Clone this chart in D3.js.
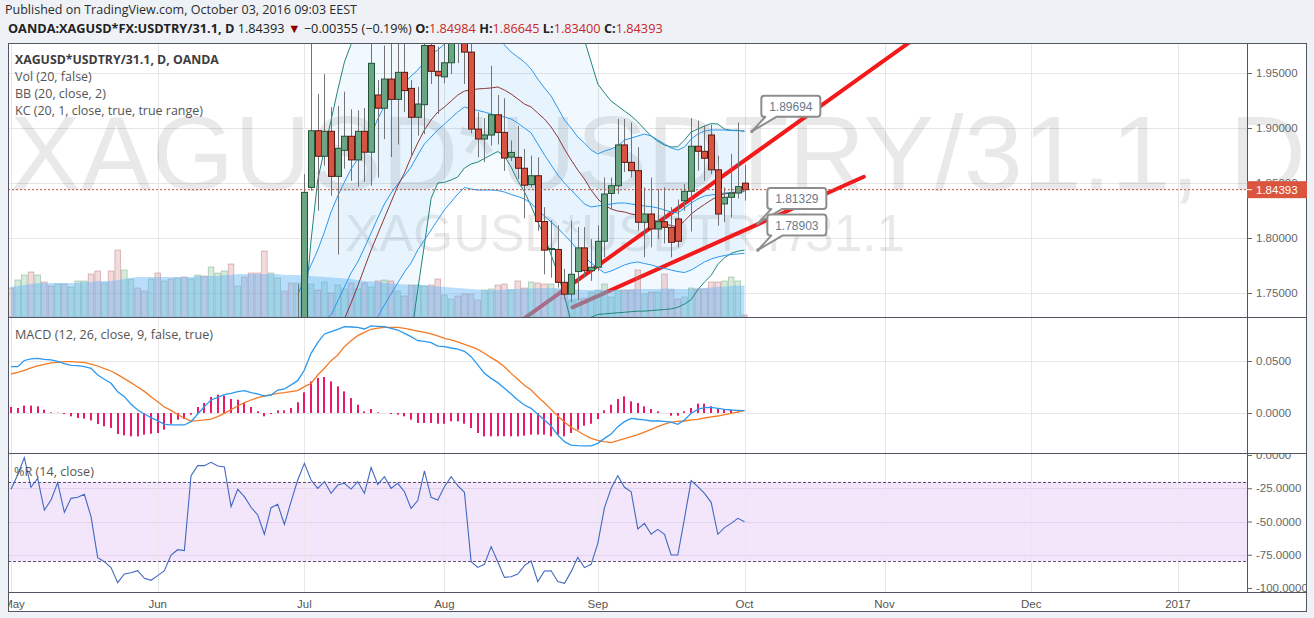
<!DOCTYPE html>
<html><head><meta charset="utf-8">
<script src="https://cdn.jsdelivr.net/npm/d3@7"></script>
<style>
html,body{margin:0;padding:0;background:#eef2f6;}
svg{display:block;}
</style></head><body>
<svg id="c" width="1314" height="618"></svg>
<script>
// ---------------- DATA ----------------
const firstDate = "2016-05-02";
const lastDate = "2016-10-03";
const candleStart = "2016-06-30";
const tickLabels = ["May","Jun","Jul","Aug","Sep","Oct","Nov","Dec","2017"];
const tickDates = ["2016-05-02","2016-06-01","2016-07-01","2016-08-01","2016-09-01","2016-10-03","2016-11-01","2016-12-01","2017-01-02"];
const priceTicks = [1.75,1.80,1.85,1.90,1.95];
const macdTicks = [0,0.05];
const wrTicks = [0,-25,-50,-75,-100];
const lastPrice = 1.84393;

const candleOpen = [1.705,1.712,1.846,1.8975,1.8743,1.897,1.856,1.8797,1.8925,1.871,1.897,1.878,1.930,1.918,1.9445,1.926,1.9506,1.936,1.9097,1.9212,1.975,1.9515,1.9465,1.9593,1.985,1.977,1.969,1.899,1.890,1.8936,1.912,1.896,1.8735,1.8733,1.8634,1.8485,1.8566,1.815,1.7895,1.7896,1.7597,1.749,1.7695,1.791,1.7703,1.7734,1.797,1.8405,1.8475,1.8846,1.8688,1.8612,1.8143,1.8218,1.8082,1.8148,1.8097,1.8173,1.8339,1.8425,1.8834,1.8788,1.8936,1.862,1.831,1.837,1.8409,1.84984];
const candleHigh = [1.758,1.858,1.985,1.931,1.949,1.919,1.920,1.933,1.917,1.916,1.918,1.985,1.9436,1.975,1.985,1.985,1.985,1.9436,1.9375,1.985,1.985,1.974,1.985,1.995,1.995,1.99,1.985,1.9143,1.909,1.9566,1.930,1.927,1.8887,1.902,1.881,1.8749,1.8733,1.828,1.816,1.8115,1.772,1.8157,1.810,1.810,1.799,1.8115,1.855,1.855,1.9082,1.9082,1.905,1.8825,1.846,1.855,1.8445,1.846,1.828,1.835,1.849,1.909,1.9066,1.902,1.903,1.8748,1.846,1.8764,1.905,1.86645];
const candleLow = [1.695,1.700,1.843,1.825,1.8657,1.8385,1.785,1.863,1.852,1.8466,1.851,1.8475,1.855,1.890,1.8736,1.885,1.9145,1.875,1.893,1.8945,1.940,1.9127,1.9406,1.949,1.959,1.940,1.895,1.8734,1.869,1.884,1.885,1.861,1.870,1.8536,1.818,1.846,1.8066,1.767,1.764,1.755,1.7445,1.7415,1.7436,1.764,1.761,1.770,1.7825,1.8264,1.840,1.860,1.855,1.8066,1.7825,1.7915,1.799,1.795,1.7825,1.7915,1.8248,1.806,1.8612,1.852,1.858,1.8112,1.8145,1.8188,1.836,1.834];
const candleClose = [1.712,1.8415,1.8975,1.8743,1.897,1.856,1.8815,1.8925,1.871,1.897,1.878,1.9588,1.918,1.9445,1.926,1.9506,1.934,1.9097,1.9218,1.975,1.9515,1.9475,1.9593,1.978,1.977,1.969,1.899,1.890,1.8936,1.912,1.896,1.8727,1.8778,1.8634,1.848,1.8566,1.815,1.789,1.7905,1.7597,1.749,1.767,1.791,1.7703,1.7734,1.797,1.840,1.8475,1.8846,1.8688,1.8612,1.8143,1.8218,1.8082,1.8148,1.8097,1.7961,1.797,1.8425,1.8834,1.8788,1.8725,1.862,1.8218,1.837,1.8407,1.8467,1.84393];

const bbUpper = [1.70,1.73,1.798,1.853,1.88,1.907,1.9345,1.96,1.976,1.99,2.0,2.015,2.025,2.035,2.045,2.05,2.055,2.055,2.055,2.06,2.065,2.065,2.065,2.06,2.055,2.045,2.035,2.03,2.025,2.02,2.015,2.01,2.01,2.01,2.01,2.01,2.01,2.01,2.01,2.01,2.005,2.0,1.99,1.98,1.96,1.94,1.932,1.9245,1.92,1.9155,1.911,1.9055,1.899,1.8927,1.888,1.8845,1.8827,1.883,1.889,1.8964,1.899,1.9018,1.904,1.9036,1.899,1.898,1.898,1.8969];
const bbBasis = [1.69,1.693,1.697,1.70,1.7073,1.7164,1.7236,1.7265,1.7409,1.7564,1.7727,1.7891,1.8036,1.8182,1.8327,1.8473,1.8591,1.8736,1.8864,1.8982,1.9073,1.9145,1.9191,1.9245,1.93,1.9336,1.9345,1.9355,1.9359,1.9364,1.9373,1.9345,1.9309,1.9264,1.9218,1.9191,1.9136,1.9082,1.9009,1.8918,1.8809,1.8709,1.8618,1.8536,1.8436,1.8355,1.83,1.8264,1.8245,1.8236,1.8218,1.8209,1.8191,1.8173,1.815,1.8127,1.8114,1.81,1.8155,1.8218,1.8264,1.8305,1.8345,1.8382,1.84,1.8409,1.8418,1.843];
const bbLower = [1.64,1.62,1.60,1.58,1.57,1.56,1.55,1.545,1.545,1.55,1.555,1.56,1.57,1.58,1.60,1.63,1.67,1.71,1.753,1.794,1.836,1.85,1.8506,1.8527,1.8555,1.8636,1.8673,1.869,1.8723,1.8755,1.8786,1.8745,1.8645,1.852,1.842,1.829,1.8145,1.801,1.7845,1.768,1.747,1.724,1.722,1.725,1.728,1.7305,1.731,1.7315,1.732,1.7325,1.733,1.7335,1.7335,1.734,1.7345,1.735,1.7355,1.737,1.740,1.744,1.753,1.76,1.766,1.776,1.782,1.786,1.788,1.789];
const kcUpper = [1.7482,1.7627,1.7755,1.7891,1.8055,1.8236,1.8382,1.8509,1.8627,1.8718,1.8818,1.8936,1.9082,1.92,1.9291,1.9355,1.9409,1.9473,1.9527,1.96,1.9673,1.9709,1.9764,1.9818,1.988,1.992,1.994,1.994,1.992,1.99,1.985,1.9755,1.9691,1.9645,1.96,1.9536,1.9445,1.9364,1.9291,1.9182,1.9073,1.90,1.8918,1.8864,1.88,1.8764,1.8791,1.8809,1.8836,1.8891,1.8909,1.8927,1.8945,1.8927,1.8891,1.8855,1.8818,1.88,1.8827,1.89,1.8945,1.8973,1.8982,1.8982,1.8982,1.8977,1.8975,1.8975];
const kcMiddle = [1.7073,1.7118,1.7164,1.7209,1.7255,1.73,1.7427,1.7555,1.7682,1.7782,1.7909,1.8045,1.8182,1.8309,1.8409,1.8491,1.8564,1.8645,1.8755,1.8855,1.8918,1.8982,1.9036,1.9091,1.9145,1.9191,1.9173,1.9159,1.9145,1.9127,1.9109,1.91,1.9082,1.9045,1.90,1.8955,1.8855,1.8755,1.8664,1.8573,1.85,1.8436,1.8373,1.8309,1.8282,1.8291,1.83,1.8309,1.8318,1.8318,1.8309,1.83,1.8291,1.8285,1.8273,1.8255,1.8236,1.8227,1.8273,1.8318,1.8355,1.8382,1.8391,1.84,1.8409,1.8414,1.8418,1.8421];
const kcLower = [1.62,1.63,1.64,1.65,1.66,1.67,1.68,1.69,1.695,1.70,1.707,1.715,1.7285,1.7391,1.7491,1.7591,1.7691,1.7773,1.7891,1.7982,1.8073,1.8164,1.8255,1.8327,1.84,1.8459,1.8445,1.8436,1.8436,1.8436,1.8432,1.8418,1.8395,1.8377,1.8355,1.8314,1.8255,1.82,1.8145,1.809,1.8027,1.7964,1.7891,1.7827,1.7773,1.7727,1.7682,1.77,1.7727,1.7755,1.7773,1.7782,1.7768,1.7755,1.7736,1.7723,1.7709,1.7695,1.7686,1.7709,1.7745,1.7782,1.7809,1.7827,1.7841,1.785,1.7855,1.7861];

const volume = [29,37,42,45,42,35,31,33,33,30,36,36,43,46,34,46,67,47,38,29,26,38,44,36,38,39,40,38,42,41,50,44,46,53,31,40,44,44,66,44,39,26,34,34,30,33,27,35,24,32,28,34,28,34,30,36,37,36,26,21,32,32,31,32,38,22,18,21,23,23,17,27,28,32,33,27,36,29,35,34,33,33,27,25,17,18,19,25,27,33,20,27,27,27,47,23,25,25,43,27,18,20,29,28,28,35,35,36,40,36,2];
const volumeUpEarly = [0,1,1,0,1,0,0,1,0,1,1,1,0,0,1,0,0,1,1,0,0,1,0,1,0,1,0,1,1,0,1,1,1,0,1,0,0,0,0,1,1,0,0];
const volumeMA = [30,31,32,33,34,34,34,34,34,34,34,35,35,36,36,36,37,38,39,40,40,40,40,40,40,40,40,40,41,41,41,41,42,42,43,43,43,43,43,43,43,42,42,42,41.5,41,40.5,40,39.5,39,38.5,38,37,36,35.5,35,34,33.5,33,32.5,32,32,32,31,30.5,30,29.5,29,28.5,28,27.5,27,27,27,27.5,28,28,28.5,28.5,29,29,29,29,28.5,28,27.5,27,27,27,27,27,27,27,27.5,28,28,28,28,28.5,28.5,28,28,28,28.5,29,29.5,30,30.5,31,31.5,31.5];

const macdLine = [0.0445,0.0445,0.0505,0.052,0.0526,0.0516,0.051,0.0497,0.0474,0.0458,0.0455,0.0445,0.043,0.0365,0.0324,0.0286,0.0205,0.0157,0.0084,0.0029,-0.001,-0.0045,-0.0074,-0.011,-0.0115,-0.0115,-0.0115,-0.0083,-0.001,0.0061,0.0125,0.015,0.0176,0.0189,0.0205,0.0215,0.0196,0.0183,0.0163,0.0173,0.0221,0.0231,0.027,0.0311,0.0413,0.0574,0.0676,0.076,0.0782,0.0805,0.083,0.0827,0.0824,0.0808,0.0837,0.0833,0.083,0.0814,0.0798,0.0766,0.0734,0.0695,0.0689,0.0676,0.0644,0.0638,0.0625,0.0615,0.0593,0.0542,0.0462,0.0381,0.0333,0.0292,0.0237,0.0183,0.0125,0.0077,0.0045,-0.0013,-0.0067,-0.0125,-0.0212,-0.0276,-0.0308,-0.0314,-0.0317,-0.0317,-0.0292,-0.0244,-0.0202,-0.0131,-0.0083,-0.0051,-0.006,-0.0067,-0.0077,-0.0077,-0.008,-0.0087,-0.0109,-0.0067,-0.0003,0.0035,0.0051,0.0055,0.0045,0.0035,0.0029,0.0026,0.0022];
const macdSignal = [0.0375,0.0391,0.041,0.0433,0.0452,0.0468,0.0481,0.0487,0.0494,0.0494,0.049,0.0487,0.0471,0.0452,0.0426,0.0404,0.0369,0.033,0.0292,0.025,0.0208,0.0157,0.0108,0.0058,0.0025,-0.0015,-0.005,-0.0077,-0.0074,-0.0067,-0.0058,-0.0035,-0.0003,0.0032,0.0067,0.0099,0.0125,0.0147,0.0163,0.0176,0.0189,0.0196,0.0205,0.0215,0.0253,0.0285,0.0365,0.043,0.0503,0.0558,0.0638,0.0695,0.0744,0.0776,0.0805,0.0817,0.0824,0.0824,0.0824,0.0814,0.0801,0.0788,0.0776,0.076,0.0741,0.0718,0.0702,0.0683,0.066,0.0638,0.0612,0.0574,0.0532,0.0494,0.0445,0.0381,0.0324,0.0266,0.0221,0.0157,0.0099,0.0035,-0.0029,-0.0087,-0.0138,-0.0173,-0.0212,-0.0244,-0.0263,-0.0276,-0.0285,-0.0266,-0.0247,-0.0228,-0.0208,-0.0183,-0.0157,-0.0131,-0.0106,-0.0087,-0.008,-0.0077,-0.0067,-0.0061,-0.0048,-0.0038,-0.0029,-0.0016,-0.0003,0.001,0.0022];
const macdHist = [0.0058,0.0048,0.0071,0.0071,0.0064,0.0032,0.0006,0.0003,-0.001,-0.0032,-0.0048,-0.0054,-0.0071,-0.0106,-0.0128,-0.0144,-0.0202,-0.0215,-0.0224,-0.0224,-0.0208,-0.0199,-0.0192,-0.016,-0.0103,-0.0064,-0.0058,-0.0016,0.0058,0.0096,0.0154,0.0176,0.0167,0.0135,0.0128,0.0096,0.0058,0.0016,-0.0032,-0.001,0.0026,0.0026,0.0048,0.0103,0.0199,0.0304,0.0337,0.0346,0.0304,0.0256,0.0208,0.0144,0.008,0.0016,0.0038,0.0006,0,-0.001,-0.0016,-0.0032,-0.0064,-0.0096,-0.0096,-0.0096,-0.0103,-0.0103,-0.008,-0.008,-0.0103,-0.0144,-0.0192,-0.0224,-0.0224,-0.0224,-0.0224,-0.0224,-0.0224,-0.0218,-0.0208,-0.0208,-0.0208,-0.0224,-0.0208,-0.0224,-0.0192,-0.016,-0.0122,-0.0103,-0.0058,0.0026,0.008,0.0135,0.016,0.0112,0.0096,0.0064,0.0038,0.0016,0,-0.0026,-0.0026,0.0016,0.0048,0.009,0.009,0.0064,0.0048,0.0038,0.0032,0.0006,0];
const williamsR = [-25.8,-15,-2,-24.3,-17.5,-41.4,-33.8,-20.8,-43.1,-32.6,-31.8,-29.6,-46.4,-77.2,-80.2,-84.7,-96,-89.5,-88.5,-87,-92.7,-94.2,-90.7,-87,-75.2,-71.2,-71.9,-15.5,-8,-8,-5.5,-8.3,-9,-38.8,-25.8,-31.3,-39.3,-45.1,-59.6,-39.6,-37.1,-52.1,-35.1,-18.8,-6.3,-18.8,-25.1,-20,-28.8,-22.6,-21.3,-25.6,-20,-28.8,-9.5,-22.1,-16.3,-25.1,-21.3,-27.6,-40.1,-34.3,-12,-31.8,-33.8,-23.8,-16.3,-23.1,-28.1,-80.2,-84.5,-82.2,-68.9,-80.2,-92,-91.5,-89.5,-83.2,-79.7,-95.2,-87.2,-87,-95.2,-96.5,-87.7,-76.9,-84.7,-82.2,-66.4,-39.6,-25.1,-15.5,-24.3,-27.6,-55.6,-51.4,-59.6,-55.9,-59.6,-75.2,-75.2,-47.6,-19.3,-23.8,-28.8,-35.6,-59.6,-54.6,-51.4,-47.6,-50.1];
const wrLevels = [-20,-80];

// user drawn trend lines: [bar index, price]
const trendFrom = [[74.0,1.714],[84.2,1.737]];
const trendTo = [[136.0,1.9834],[127.9,1.8557]];
// price callouts: [bar index, price]
const calloutBar = [111.1,112.0,112.0];
const calloutValue = [1.89694,1.81329,1.78903];

// ---------------- HELPERS ----------------
function tradingDays(a,b){const out=[];let d=new Date(a+"T00:00:00Z");const e=new Date(b+"T00:00:00Z");
  while(d<=e){const w=d.getUTCDay();if(w!==0&&w!==6)out.push(d.toISOString().slice(0,10));d=new Date(d.getTime()+864e5);}return out;}
const days = tradingDays(firstDate,"2017-01-13");
const idxOf = s => days.indexOf(s);
const c0 = idxOf(candleStart);
const lastIdx = idxOf(lastDate);
const loc = d3.formatLocale({decimal:".",thousands:",",grouping:[3],currency:["$",""],minus:"-"});
const f5 = loc.format(".5f"), f4 = loc.format(".4f");

const candles = candleOpen.map((o,k)=>({i:c0+k,o,h:candleHigh[k],l:candleLow[k],c:candleClose[k]}));

// ---------------- LAYOUT ----------------
const L=8, PR=1247, R=1307;
const P = {main:[43,317], macd:[317,453], wr:[453,592]};
const AXB = 612;

const x = d3.scaleLinear().domain([0,lastIdx]).range([11,744.5]);
const y = d3.scaleLinear().domain([1.75,1.95]).range([293,73]);
const yV = d3.scaleLinear().domain([0,100]).range([317,217]);
const yM = d3.scaleLinear().domain([0,0.05]).range([413,361]);
const yW = d3.scaleLinear().domain([0,-100]).range([455,588]);

const svg = d3.select("#c");
const defs = svg.append("defs");
function clip(id,x0,y0,x1,y1){defs.append("clipPath").attr("id",id).append("rect").attr("x",x0).attr("y",y0).attr("width",x1-x0).attr("height",y1-y0);}
clip("cMain",L,P.main[0],PR,P.main[1]);
clip("cMainW",L,P.main[0],R,P.main[1]);
clip("cMacd",L,P.macd[0],PR,P.macd[1]);
clip("cWr",L,P.wr[0],PR,P.wr[1]);
clip("cAxis",L,P.wr[1],PR,AXB);
clip("caMain",PR,P.main[0],R,P.main[1]);
clip("caMacd",PR,P.macd[0],R,P.macd[1]);
clip("caWr",PR,P.wr[0],R,P.wr[1]);

const FONT = "'Open Sans','Noto Sans',sans-serif";
const AFONT = "'Liberation Sans',Arial,sans-serif";

svg.append("rect").attr("x",L).attr("y",P.main[0]).attr("width",R-L).attr("height",AXB-P.main[0]).attr("fill","#fff");

// grid
const grid = svg.append("g").attr("stroke","#e6e6e6").attr("stroke-width",1).attr("shape-rendering","crispEdges");
tickDates.forEach(d=>{const xx=Math.round(x(idxOf(d)))+0.5; grid.append("line").attr("x1",xx).attr("x2",xx).attr("y1",P.main[0]).attr("y2",P.wr[1]);});
priceTicks.forEach(v=>{const yy=Math.round(y(v))+0.5;grid.append("line").attr("x1",L).attr("x2",PR).attr("y1",yy).attr("y2",yy);});
macdTicks.forEach(v=>{const yy=Math.round(yM(v))+0.5;grid.append("line").attr("x1",L).attr("x2",PR).attr("y1",yy).attr("y2",yy);});

// ---------------- MAIN PANE ----------------
const gW = svg.append("g").attr("clip-path","url(#cMainW)");
const wm1 = gW.append("text").attr("x",L+2).attr("y",190).attr("font-family",AFONT).attr("font-size",106)
  .attr("fill","#000").attr("fill-opacity",0.085).text("XAGUSD*USDTRY/31.1, D");
const wm2 = gW.append("text").attr("x",345).attr("y",251).attr("font-family",AFONT).attr("font-size",51)
  .attr("fill","#000").attr("fill-opacity",0.085).text("XAGUSD*USDTRY/31.1");

const gM = svg.append("g").attr("clip-path","url(#cMain)");
const area2 = (a,b)=>d3.area().x((d,k)=>x(c0+k)).y0((d,k)=>y(b[k])).y1((d,k)=>y(a[k]));
gM.append("path").attr("d",area2(bbUpper,bbLower)(bbUpper)).attr("fill","rgba(33,150,243,0.06)");
gM.append("path").attr("d",area2(kcUpper,kcLower)(kcUpper)).attr("fill","rgba(33,150,243,0.05)");

// trend lines (under the volume layer)
const gT = gM.append("g");
trendFrom.forEach((f,k)=>{const t=trendTo[k];
  gT.append("line").attr("x1",x(f[0])).attr("y1",y(f[1])).attr("x2",x(t[0])).attr("y2",y(t[1]))
   .attr("stroke","#f21a1a").attr("stroke-width",4).attr("stroke-linecap","round");});

// volume
const volUp = volume.map((v,i)=>{ if(i<c0) return volumeUpEarly[i]; const k=i-c0; return candleClose[k]>=candleOpen[k]?1:0;});
gM.append("g").selectAll("rect").data(volume).join("rect")
  .attr("x",(v,i)=>x(i)-2.8).attr("width",5.6).attr("y",v=>yV(v)).attr("height",v=>yV(0)-yV(v))
  .attr("fill",(v,i)=>volUp[i]?"rgba(95,175,120,0.25)":"rgba(205,110,115,0.25)")
  .attr("stroke",(v,i)=>volUp[i]?"rgba(80,150,100,0.45)":"rgba(170,90,95,0.45)").attr("stroke-width",0.8);
gM.append("path").attr("d",d3.area().x((v,i)=>x(i)).y0(yV(0)).y1(v=>yV(v))(volumeMA))
  .attr("fill","rgba(100,181,246,0.45)");

// bands
const ln = arr => d3.line().x((d,k)=>x(c0+k)).y(d=>y(d))(arr);
gM.append("path").attr("d",ln(bbUpper)).attr("fill","none").attr("stroke","#21867a").attr("stroke-width",1);
gM.append("path").attr("d",ln(bbLower)).attr("fill","none").attr("stroke","#21867a").attr("stroke-width",1);
gM.append("path").attr("d",ln(kcUpper)).attr("fill","none").attr("stroke","#2b98f0").attr("stroke-width",1);
gM.append("path").attr("d",ln(kcLower)).attr("fill","none").attr("stroke","#2b98f0").attr("stroke-width",1);
gM.append("path").attr("d",ln(kcMiddle)).attr("fill","none").attr("stroke","#2b98f0").attr("stroke-width",1);
gM.append("path").attr("d",ln(bbBasis)).attr("fill","none").attr("stroke","#8c3838").attr("stroke-width",1);

// candles
const gC = gM.append("g");
gC.selectAll("line").data(candles).join("line")
  .attr("x1",d=>Math.round(x(d.i))+0.5).attr("x2",d=>Math.round(x(d.i))+0.5)
  .attr("y1",d=>y(d.h)).attr("y2",d=>y(d.l)).attr("stroke","#737375").attr("stroke-width",1);
gC.selectAll("rect").data(candles).join("rect")
  .attr("x",d=>Math.round(x(d.i))-2.5).attr("width",6)
  .attr("y",d=>y(Math.max(d.o,d.c))).attr("height",d=>Math.max(1,Math.abs(y(d.o)-y(d.c))))
  .attr("fill",d=>d.c>=d.o?"#6ba583":"#d75442").attr("stroke",d=>d.c>=d.o?"#225437":"#5b1a13").attr("stroke-width",1);

// last price dotted line
svg.append("line").attr("x1",L).attr("x2",PR).attr("y1",y(lastPrice)).attr("y2",y(lastPrice))
  .attr("stroke","#c9503c").attr("stroke-width",1).attr("stroke-dasharray","2,2");

// callouts
calloutBar.forEach((b,k)=>{
  const ax=x(b), ay=y(calloutValue[k]);
  const bx=ax+9.5, bw=59, bh=21, by=ay-14.5-bh, r=3;
  const p = `M${bx+r},${by}H${bx+bw-r}Q${bx+bw},${by} ${bx+bw},${by+r}V${by+bh-r}Q${bx+bw},${by+bh} ${bx+bw-r},${by+bh}H${bx+15}L${ax},${ay}L${bx+4},${by+bh}H${bx+r}Q${bx},${by+bh} ${bx},${by+bh-r}V${by+r}Q${bx},${by} ${bx+r},${by}Z`;
  svg.append("path").attr("d",p).attr("fill","#fff").attr("stroke","#8d8d8d").attr("stroke-width",2).attr("stroke-linejoin","round");
  svg.append("rect").attr("x",ax-1.5).attr("y",ay-1.5).attr("width",3).attr("height",3).attr("fill","#8d8d8d");
  svg.append("text").attr("x",bx+bw/2).attr("y",by+15).attr("text-anchor","middle").attr("font-family",AFONT)
    .attr("font-size",12).attr("fill","#687a8c").text(f5(calloutValue[k]));
});

// ---------------- MACD PANE ----------------
const gMa = svg.append("g").attr("clip-path","url(#cMacd)");
gMa.selectAll("rect").data(macdHist).join("rect")
  .attr("x",(v,i)=>Math.round(x(i))-1).attr("width",2)
  .attr("y",v=>Math.min(yM(v),yM(0))).attr("height",v=>Math.abs(yM(v)-yM(0)))
  .attr("fill","#e8196b");
const lnI = (sc)=>d3.line().x((v,i)=>x(i)).y(v=>sc(v));
gMa.append("path").attr("d",lnI(yM)(macdSignal)).attr("fill","none").attr("stroke","#f47b26").attr("stroke-width",1.3);
gMa.append("path").attr("d",lnI(yM)(macdLine)).attr("fill","none").attr("stroke","#2b98f0").attr("stroke-width",1.3);

// ---------------- %R PANE ----------------
const gR = svg.append("g").attr("clip-path","url(#cWr)");
gR.append("rect").attr("x",L).attr("width",PR-L).attr("y",yW(wrLevels[0])).attr("height",yW(wrLevels[1])-yW(wrLevels[0])).attr("fill","#f3e6fb");
[-25,-50,-75].forEach(v=>{const yy=Math.round(yW(v))+0.5; gR.append("line").attr("x1",L).attr("x2",PR).attr("y1",yy).attr("y2",yy).attr("stroke","#e3d3ee").attr("stroke-width",1);});
tickDates.forEach(d=>{const xx=Math.round(x(idxOf(d)))+0.5; gR.append("line").attr("x1",xx).attr("x2",xx).attr("y1",P.wr[0]).attr("y2",P.wr[1]).attr("stroke","#e6e6e6").attr("stroke-opacity",0.6);});
wrLevels.forEach(v=>{const yy=Math.round(yW(v))+0.5; gR.append("line").attr("x1",L).attr("x2",PR).attr("y1",yy).attr("y2",yy).attr("stroke","#5c5470").attr("stroke-width",1).attr("stroke-dasharray","3,2");});
gR.append("path").attr("d",lnI(yW)(williamsR)).attr("fill","none").attr("stroke","#4169c1").attr("stroke-width",1.1);

// ---------------- FRAME ----------------
const fr = svg.append("g").attr("stroke","#505561").attr("stroke-width",1).attr("shape-rendering","crispEdges").attr("fill","none");
fr.append("rect").attr("x",L+0.5).attr("y",P.main[0]+0.5).attr("width",R-L-1).attr("height",AXB-P.main[0]-1);
fr.append("line").attr("x1",PR+0.5).attr("x2",PR+0.5).attr("y1",P.main[0]).attr("y2",P.wr[1]);
[P.main[1],P.macd[1],P.wr[1]].forEach(v=>fr.append("line").attr("x1",L).attr("x2",R).attr("y1",v+0.5).attr("y2",v+0.5));

// ---------------- AXES ----------------
function rightAxis(sc,vals,fmt,clipId){
  const outer = svg.append("g").attr("clip-path",`url(#${clipId})`);
  const g = outer.append("g").attr("transform",`translate(${PR},0)`);
  const ax = d3.axisRight(sc).tickValues(vals).tickFormat(fmt).tickSize(5).tickPadding(4);
  g.call(ax);
  g.select(".domain").remove();
  g.selectAll(".tick line").attr("stroke","#666");
  g.selectAll(".tick text").attr("font-family",AFONT).attr("font-size",11.5).attr("fill","#666");
  return outer;
}
rightAxis(y,priceTicks,f5,"caMain");
rightAxis(yM,macdTicks,f4,"caMacd");
rightAxis(yW,wrTicks,f4,"caWr");

// last price tag
const ly = y(lastPrice);
svg.append("rect").attr("x",PR).attr("y",ly-8.5).attr("width",R-PR).attr("height",17).attr("fill","#da543e");
svg.append("line").attr("x1",PR).attr("x2",PR+5).attr("y1",ly).attr("y2",ly).attr("stroke","#fff");
svg.append("text").attr("x",PR+9).attr("y",ly+4.5).attr("font-family",AFONT).attr("font-size",11.5).attr("fill","#fff").text(f5(lastPrice));

// time axis
const gX = svg.append("g").attr("clip-path","url(#cAxis)");
tickDates.forEach((d,k)=>{
  gX.append("text").attr("x",x(idxOf(d))+(k===0?3:0)).attr("y",608).attr("text-anchor","middle").attr("font-family",AFONT)
    .attr("font-size",11.5).attr("fill","#555").text(tickLabels[k]);
});

// ---------------- TEXTS ----------------
function fit(sel,w){const n=sel.node();const cur=n.getComputedTextLength();const fs=parseFloat(sel.attr("font-size"));sel.attr("font-size",(fs*w/cur).toFixed(2));}
const h1 = svg.append("text").attr("x",5).attr("y",14).attr("font-family",FONT).attr("font-size",12.5).attr("fill","#2b2b2b")
  .text("Published on TradingView.com, October 03, 2016 09:03 EEST");
fit(h1,352);
const h2 = svg.append("text").attr("x",8).attr("y",33).attr("font-family",FONT).attr("font-size",12.5).attr("fill","#222");
h2.append("tspan").attr("font-weight","bold").text("OANDA:XAGUSD*FX:USDTRY/31.1, D");
h2.append("tspan").text(" 1.84393 ");
h2.append("tspan").attr("fill","#8b0000").text("▼");
h2.append("tspan").text(" −0.00355 (−0.19%) ");
[["O:","1.84984"],["H:","1.86645"],["L:","1.83400"],["C:","1.84393"]].forEach((p,k)=>{
  h2.append("tspan").attr("font-weight","bold").text((k?" ":"")+p[0]);
  h2.append("tspan").attr("fill","#c62828").text(p[1]);
});
fit(h2,655);

const leg = [["XAGUSD*USDTRY/31.1, D, OANDA",true,64],["Vol (20, false)",false,81],["BB (20, close, 2)",false,98],["KC (20, 1, close, true, true range)",false,115]];
leg.forEach((l,k)=>{
  const t = svg.append("text").attr("x",15).attr("y",l[2]).attr("font-family",FONT).attr("font-size",12.5)
   .attr("font-weight",l[1]?"bold":"normal").attr("fill",l[1]?"#3d3d3d":"#555").text(l[0]);
  if(k===0) fit(t,204);
  if(k===3) fit(t,188);
});
const lm = svg.append("text").attr("x",15).attr("y",339).attr("font-family",FONT).attr("font-size",12.5).attr("fill","#555").text("MACD (12, 26, close, 9, false, true)");
fit(lm,198);
const lr = svg.append("text").attr("x",14).attr("y",476).attr("font-family",FONT).attr("font-size",12.5).attr("fill","#555").text("%R (14, close)");
fit(lr,80);
fit(wm1,1296);
fit(wm2,560);
</script>
</body></html>
